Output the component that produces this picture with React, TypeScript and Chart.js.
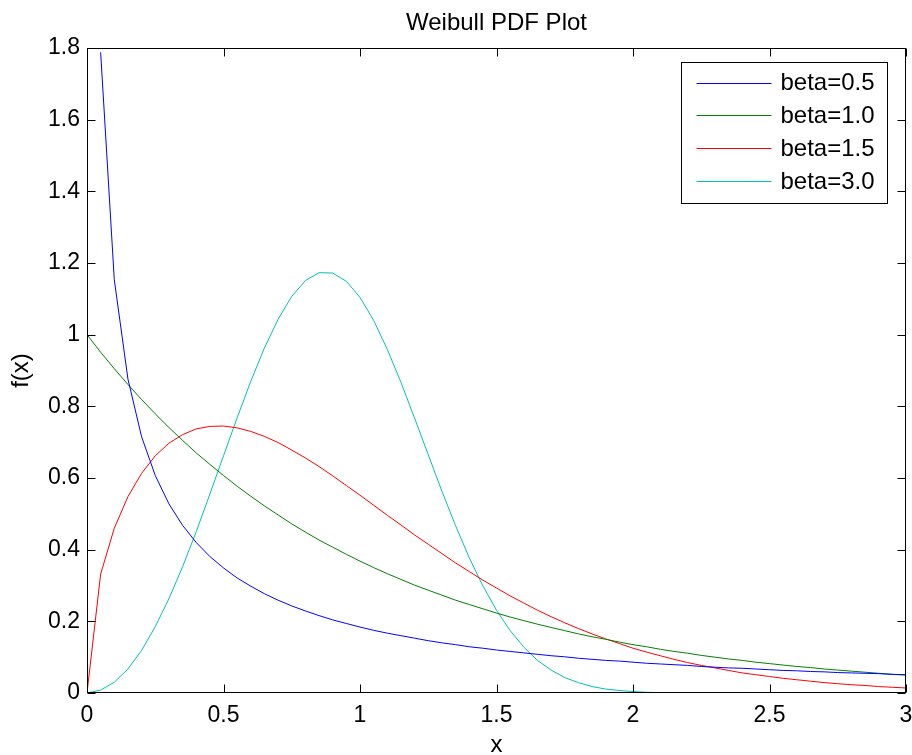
import React, { useEffect, useRef } from 'react';
import { Chart, registerables } from 'chart.js';

Chart.register(...registerables);

// sample positions along x
const xValues = [
  0, 0.05, 0.1, 0.15, 0.2, 0.25, 0.3, 0.35, 0.4, 0.45,
  0.5, 0.55, 0.6, 0.65, 0.7, 0.75, 0.8, 0.85, 0.9, 0.95,
  1, 1.05, 1.1, 1.15, 1.2, 1.25, 1.3, 1.35, 1.4, 1.45,
  1.5, 1.55, 1.6, 1.65, 1.7, 1.75, 1.8, 1.85, 1.9, 1.95,
  2, 2.05, 2.1, 2.15, 2.2, 2.25, 2.3, 2.35, 2.4, 2.45,
  2.5, 2.55, 2.6, 2.65, 2.7, 2.75, 2.8, 2.85, 2.9, 2.95,
  3
];

const beta05 = [
  null, 1.788, 1.153, 0.876, 0.715, 0.607, 0.528, 0.468, 0.420, 0.381,
  0.349, 0.321, 0.298, 0.277, 0.259, 0.243, 0.229, 0.216, 0.204, 0.194,
  0.184, 0.175, 0.167, 0.160, 0.153, 0.146, 0.140, 0.135, 0.129, 0.125,
  0.120, 0.116, 0.112, 0.108, 0.104, 0.101, 0.097, 0.094, 0.091, 0.089,
  0.086, 0.083, 0.081, 0.079, 0.077, 0.074, 0.072, 0.070, 0.069, 0.067,
  0.065, 0.063, 0.062, 0.060, 0.059, 0.057, 0.056, 0.055, 0.054, 0.052,
  0.051
];

const beta10 = [
  1.000, 0.951, 0.905, 0.861, 0.819, 0.779, 0.741, 0.705, 0.670, 0.638,
  0.607, 0.577, 0.549, 0.522, 0.497, 0.472, 0.449, 0.427, 0.407, 0.387,
  0.368, 0.350, 0.333, 0.317, 0.301, 0.287, 0.273, 0.259, 0.247, 0.235,
  0.223, 0.212, 0.202, 0.192, 0.183, 0.174, 0.165, 0.157, 0.150, 0.142,
  0.135, 0.129, 0.122, 0.116, 0.111, 0.105, 0.100, 0.095, 0.091, 0.086,
  0.082, 0.078, 0.074, 0.071, 0.067, 0.064, 0.061, 0.058, 0.055, 0.052,
  0.050
];

const beta15 = [
  0, 0.332, 0.460, 0.548, 0.613, 0.662, 0.697, 0.721, 0.737, 0.744,
  0.745, 0.740, 0.730, 0.716, 0.699, 0.678, 0.656, 0.632, 0.606, 0.579,
  0.552, 0.524, 0.496, 0.469, 0.441, 0.415, 0.389, 0.363, 0.339, 0.315,
  0.293, 0.271, 0.251, 0.231, 0.213, 0.196, 0.180, 0.165, 0.151, 0.138,
  0.125, 0.114, 0.104, 0.094, 0.085, 0.077, 0.070, 0.063, 0.056, 0.051,
  0.046, 0.041, 0.037, 0.033, 0.029, 0.026, 0.023, 0.021, 0.018, 0.016,
  0.014
];

const beta30 = [
  0, 0.008, 0.030, 0.067, 0.119, 0.185, 0.263, 0.352, 0.450, 0.555,
  0.662, 0.768, 0.870, 0.963, 1.043, 1.107, 1.151, 1.173, 1.172, 1.149,
  1.104, 1.040, 0.959, 0.867, 0.767, 0.665, 0.563, 0.467, 0.378, 0.299,
  0.231, 0.174, 0.128, 0.091, 0.064, 0.043, 0.029, 0.018, 0.011, 0.007,
  0.004, 0.002, 0.001, 0.001, 0, 0, 0, 0, 0, 0,
  0, 0, 0, 0, 0, 0, 0, 0, 0, 0,
  0
];

const seriesLabels = ['beta=0.5', 'beta=1.0', 'beta=1.5', 'beta=3.0'];
const seriesColors = ['#0000ff', '#008000', '#ff0000', '#00bfbf'];

const FONT = '"Liberation Sans", Arial, Helvetica, sans-serif';

// MATLAB prints 1 and 3, not 1.0 and 3.0
const plainTick = (value: number | string) => String(Number(Number(value).toFixed(2)));

// MATLAB-like axes box with inward ticks on all four sides, plus the legend box
const matlabFrame = {
  id: 'matlabFrame',
  afterDraw(chart: any) {
    const { ctx, chartArea: a, scales } = chart;
    const left = Math.round(a.left) + 0.5;
    const right = Math.round(a.right) - 0.5;
    const top = Math.round(a.top) + 0.5;
    const bottom = Math.round(a.bottom) - 0.5;
    const tick = 8;

    ctx.save();
    ctx.strokeStyle = '#000';
    ctx.lineWidth = 1;
    ctx.strokeRect(left, top, right - left, bottom - top);

    ctx.beginPath();
    scales.x.ticks.forEach((t: any) => {
      const px = Math.round(scales.x.getPixelForValue(t.value)) + 0.5;
      ctx.moveTo(px, bottom);
      ctx.lineTo(px, bottom - tick);
      ctx.moveTo(px, top);
      ctx.lineTo(px, top + tick);
    });
    scales.y.ticks.forEach((t: any) => {
      const py = Math.round(scales.y.getPixelForValue(t.value)) + 0.5;
      ctx.moveTo(left, py);
      ctx.lineTo(left + tick, py);
      ctx.moveTo(right, py);
      ctx.lineTo(right - tick, py);
    });
    ctx.stroke();

    // legend
    const boxW = 206;
    const boxH = 141;
    const bx = Math.round(a.right - 19 - boxW) + 0.5;
    const by = Math.round(a.top + 14) + 0.5;
    ctx.fillStyle = '#fff';
    ctx.fillRect(bx, by, boxW, boxH);
    ctx.strokeStyle = '#000';
    ctx.strokeRect(bx, by, boxW, boxH);

    ctx.font = `24px ${FONT}`;
    ctx.textBaseline = 'middle';
    ctx.textAlign = 'left';
    seriesLabels.forEach((label, i) => {
      const y = by + 20 + i * 32.8;
      ctx.strokeStyle = seriesColors[i];
      ctx.beginPath();
      ctx.moveTo(bx + 15, Math.round(y) + 0.5);
      ctx.lineTo(bx + 90, Math.round(y) + 0.5);
      ctx.stroke();
      ctx.fillStyle = '#000';
      ctx.fillText(label, bx + 99, y + 1);
    });
    ctx.restore();
  }
};

export default function App() {
  const chartRef = useRef<HTMLCanvasElement>(null);
  const chartInstance = useRef<Chart | null>(null);

  useEffect(() => {
    document.body.style.margin = '0';
    if (!chartRef.current) return;
    const ctx = chartRef.current.getContext('2d');
    if (!ctx) return;

    const series = [beta05, beta10, beta15, beta30];

    const config: any = {
      type: 'line',
      data: {
        datasets: series.map((values, i) => ({
          label: seriesLabels[i],
          data: xValues.map((x, j) => ({ x, y: values[j] })),
          borderColor: seriesColors[i],
          backgroundColor: seriesColors[i],
          borderWidth: 1,
          pointRadius: 0,
          tension: 0,
          fill: false
        }))
      },
      options: {
        responsive: false,
        animation: false,
        layout: { padding: { left: 0, right: 6, top: 0, bottom: 0 } },
        scales: {
          x: {
            type: 'linear',
            min: 0,
            max: 3,
            ticks: {
              stepSize: 0.5,
              color: '#000',
              padding: 9,
              maxRotation: 0,
              callback: plainTick,
              font: { family: FONT, size: 23 }
            },
            grid: { display: false, drawTicks: false },
            border: { display: false },
            title: {
              display: true,
              text: 'x',
              color: '#000',
              font: { family: FONT, size: 24, lineHeight: 0.8 },
              padding: { top: 0, bottom: 0 }
            },
            afterFit: (s: any) => {
              s.height = 62;
              s.paddingLeft = 0;
              s.paddingRight = 0;
            }
          },
          y: {
            type: 'linear',
            min: 0,
            max: 1.8,
            ticks: {
              stepSize: 0.2,
              color: '#000',
              padding: 7,
              callback: plainTick,
              font: { family: FONT, size: 23 }
            },
            grid: { display: false, drawTicks: false },
            border: { display: false },
            title: {
              display: true,
              text: 'f(x)',
              color: '#000',
              font: { family: FONT, size: 24, lineHeight: 1 },
              padding: { top: 9, bottom: 0 }
            },
            afterFit: (s: any) => {
              s.width = 87;
              s.paddingTop = 0;
              s.paddingBottom = 0;
            }
          }
        },
        plugins: {
          legend: { display: false },
          tooltip: { enabled: false },
          title: {
            display: true,
            text: 'Weibull PDF Plot',
            color: '#000',
            fullSize: false,
            font: { family: FONT, size: 24, weight: 'normal', lineHeight: 1.2 },
            padding: { top: 9.1, bottom: 10.1 }
          }
        }
      },
      plugins: [matlabFrame]
    };

    if (chartInstance.current) {
      chartInstance.current.destroy();
    }
    chartInstance.current = new Chart(ctx, config);

    return () => {
      if (chartInstance.current) {
        chartInstance.current.destroy();
        chartInstance.current = null;
      }
    };
  }, []);

  return (
    <div style={{ width: 912, height: 755, overflow: 'hidden', background: '#fff' }}>
      <canvas ref={chartRef} width={912} height={755} />
    </div>
  );
}
